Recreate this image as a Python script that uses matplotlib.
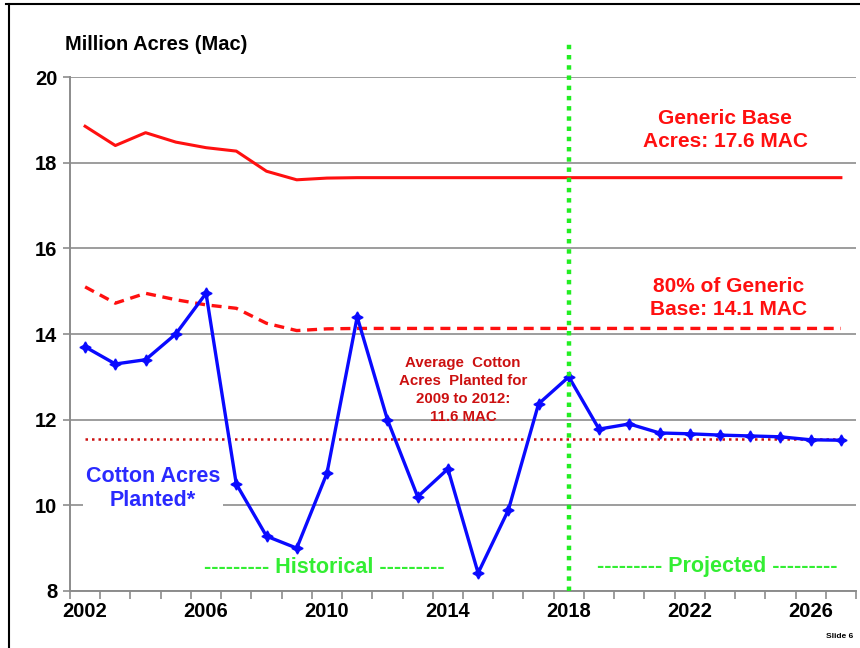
import numpy as np
import matplotlib.pyplot as plt
from matplotlib.lines import Line2D

years = list(range(2002, 2028))
cotton = [13.7, 13.3, 13.4, 14.0, 14.95, 10.5, 9.28, 9.0, 10.75, 14.4, 12.0, 10.2, 10.85,
          8.42, 9.89, 12.37, 13.0, 11.78, 11.9, 11.69, 11.67, 11.64, 11.62, 11.6, 11.53, 11.52]
generic = [18.85, 18.4, 18.7, 18.48, 18.35, 18.27, 17.8, 17.6, 17.64, 17.65, 17.65, 17.65, 17.65,
           17.65, 17.65, 17.65, 17.65, 17.65, 17.65, 17.65, 17.65, 17.65, 17.65, 17.65, 17.65, 17.65]
generic80 = [15.1, 14.72, 14.95, 14.8, 14.68, 14.6, 14.25, 14.08, 14.12, 14.13, 14.13, 14.13, 14.13,
             14.13, 14.13, 14.13, 14.13, 14.13, 14.13, 14.13, 14.13, 14.13, 14.13, 14.13, 14.13, 14.13]
avg_2009_2012 = 11.55
split_year = 2018
year_labels = [2002, 2006, 2010, 2014, 2018, 2022, 2026]

plt.rcParams['font.family'] = ['Liberation Sans', 'DejaVu Sans']
fig = plt.figure(figsize=(8.6, 6.48), dpi=100)
ax = fig.add_axes([70/860, 57/648, 786/860, 514/648])

idx = np.arange(len(years))
ax.plot(idx, generic, color='#ff1010', lw=2.2, zorder=3)
ax.plot(idx, generic80, color='#ff1010', lw=2.4, ls=(0, (3, 2)), zorder=3)
ax.plot([idx[0], idx[-1]], [avg_2009_2012]*2, color='#cc1010', lw=1.8, ls=(0, (1, 1.6)), zorder=3)
ax.plot(idx, cotton, color='#0a0aff', lw=2.4, marker=(4, 1, 0), ms=8, zorder=4)

sx = years.index(split_year)
ax.plot([sx, sx], [8, 20.82], color='#22ee22', lw=3.2, ls=(0, (1, 1.3)), clip_on=False, zorder=5)

ax.set_xlim(-0.5, len(years) - 0.5)
ax.set_ylim(8, 20)
ax.set_yticks([8, 10, 12, 14, 16, 18, 20])
ax.yaxis.grid(True, color='#8c8c8c', lw=1.2)
ax.set_axisbelow(True)
ax.set_xticks([years.index(y) for y in year_labels])
ax.set_xticklabels([str(y) for y in year_labels])
ax.set_xticks(np.arange(len(years) + 1) - 0.5, minor=True)
ax.tick_params(axis='x', which='major', length=0, pad=8)
ax.tick_params(axis='x', which='minor', length=6, width=1.2, color='#8c8c8c')
ax.tick_params(axis='y', length=5, width=1.2, color='#8c8c8c', pad=4)
for lab in ax.get_xticklabels() + ax.get_yticklabels():
    lab.set_fontsize(14.5)
    lab.set_fontweight('bold')
for s in ['top', 'right']:
    ax.spines[s].set_visible(False)
for s in ['left', 'bottom']:
    ax.spines[s].set_color('#8c8c8c')
    ax.spines[s].set_linewidth(1.4)

fig.text(65/860, 1 - 44/648, 'Million Acres (Mac)', fontsize=14.5, fontweight='bold', va='center', ha='left')

ax.text(21.17, 18.76, 'Generic Base\nAcres: 17.6 MAC', color='#ff1010', fontsize=15, fontweight='bold',
        ha='center', va='center', linespacing=1.3)
ax.text(21.27, 14.84, '80% of Generic\nBase: 14.1 MAC', color='#ff1010', fontsize=15, fontweight='bold',
        ha='center', va='center', linespacing=1.3)
ax.text(12.5, 12.69, 'Average  Cotton\nAcres  Planted for\n2009 to 2012:\n11.6 MAC', color='#cc1010',
        fontsize=10.8, fontweight='bold', ha='center', va='center', linespacing=1.35)
ax.text(2.25, 10.4, 'Cotton Acres\nPlanted*', color='#2a2aff', fontsize=15.5, fontweight='bold',
        ha='center', va='center', linespacing=1.2,
        bbox=dict(facecolor='white', edgecolor='none', pad=2))
ax.text(7.9, 8.54, '--------- Historical ---------', color='#33ee33', fontsize=15.5, fontweight='bold',
        ha='center', va='center')
ax.text(20.9, 8.58, '--------- Projected ---------', color='#33ee33', fontsize=15.5, fontweight='bold',
        ha='center', va='center')

fig.text(826/860, 12/648, 'Slide 6', fontsize=6, fontweight='bold', ha='left', va='center')

fig.add_artist(Line2D([6/860, 1], [1 - 4/648, 1 - 4/648], color='black', lw=1.5))
fig.add_artist(Line2D([9/860, 9/860], [0, 1 - 4/648], color='black', lw=1.5))

fig.savefig('out.png', dpi=100)
